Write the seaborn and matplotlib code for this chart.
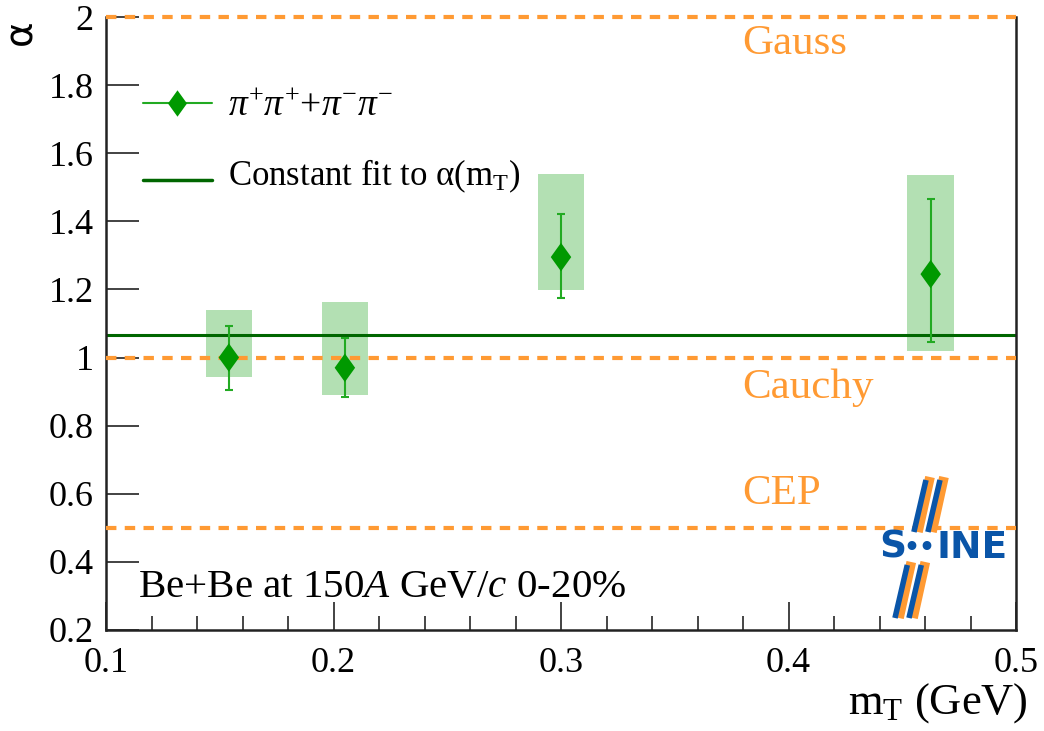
import numpy as np
import pandas as pd
import seaborn as sns
import matplotlib.pyplot as plt

# alpha vs mT, Be+Be 150A GeV/c 0-20%
mt = [0.154, 0.205, 0.300, 0.4625]
alpha = [1.000, 0.970, 1.295, 1.245]
stat_lo = [0.095, 0.085, 0.120, 0.198]
stat_hi = [0.094, 0.088, 0.128, 0.220]
sys_lo = [1.000 - 0.943, 0.970 - 0.891, 1.295 - 1.199, 1.245 - 1.018]
sys_hi = [1.140 - 1.000, 1.163 - 0.970, 1.539 - 1.295, 1.536 - 1.245]
box_w = 0.0205
const_fit = 1.067
ref_vals = [2.0, 1.0, 0.5]
ref_names = ['Gauss', 'Cauchy', 'CEP']

sns.set_theme(style='ticks')
plt.rcParams['font.family'] = ['Liberation Serif', 'DejaVu Serif']
plt.rcParams['mathtext.fontset'] = 'custom'
plt.rcParams['mathtext.rm'] = 'Liberation Serif'
plt.rcParams['mathtext.it'] = 'Liberation Serif:italic'
plt.rcParams['text.color'] = 'black'

orange = '#ff9a33'
green_pt = '#009900'
diamond = [(0, 1), (0.72, 0), (0, -1), (-0.72, 0), (0, 1)]

W, H = 1044, 731
fig = plt.figure(figsize=(10.44, 7.31), dpi=100)
ax = fig.add_axes([106 / W, 1 - 630 / H, 910 / W, 613 / H])

def fx(px):
    return px / W

def fy(py):
    return 1 - py / H

df = pd.DataFrame({'mt': mt, 'alpha': alpha})

# systematic boxes
lo = np.array(alpha) - np.array(sys_lo)
ax.bar(mt, np.array(sys_lo) + np.array(sys_hi), bottom=lo, width=box_w,
       color='#b3e0b3', edgecolor='none', zorder=1)
# stat errors
ax.errorbar(mt, alpha, yerr=[stat_lo, stat_hi], fmt='none', ecolor='#22aa22',
            elinewidth=1.5, capsize=3, capthick=1.5, zorder=3)
# reference lines
for v in ref_vals:
    ax.axhline(v, color=orange, ls=(0, (2.5, 2)), lw=3, zorder=4, clip_on=False)
ax.axhline(const_fit, color='#006600', lw=2.2, zorder=2)
sns.scatterplot(data=df, x='mt', y='alpha', marker=diamond, s=420, color=green_pt,
                edgecolor='none', zorder=5, ax=ax)

ax.set_xlim(0.1, 0.5)
ax.set_ylim(0.2, 2.0)
ax.set_xticks(np.arange(0.1, 0.51, 0.1))
ax.set_xticks(np.arange(0.1, 0.5, 0.02), minor=True)
ax.set_yticks(np.arange(0.2, 2.01, 0.2))
ax.set_xticklabels([f'{t:g}' for t in np.arange(0.1, 0.51, 0.1).round(1)])
ax.set_yticklabels([f'{t:g}' for t in np.arange(0.2, 2.01, 0.2).round(1)])
ax.tick_params(axis='both', which='major', direction='in', length=20, width=1.2,
               labelsize=26, top=False, right=False, colors='#222222', labelcolor='black')
ax.tick_params(axis='y', which='major', length=24, pad=9)
ax.tick_params(axis='x', which='major', pad=12)
ax.tick_params(axis='x', which='minor', direction='in', length=10, width=1.2, top=False)
for s in ax.spines.values():
    s.set_linewidth(1.8)
    s.set_color('#222222')
ax.spines['top'].set_visible(False)
ax.set_xlabel('')
ax.set_ylabel('')

# labels for reference lines
for name, py in zip(ref_names, [44, 388, 494]):
    fig.text(fx(742), fy(py), name, color=orange, fontsize=31, va='center')

# legend (drawn by hand, ROOT style)
fig.lines.append(plt.Line2D([fx(143), fx(212)], [fy(103)] * 2, color='#22aa22',
                            lw=1.5, transform=fig.transFigure))
fig.lines.append(plt.Line2D([fx(177)], [fy(103)], marker=diamond, ms=19, color=green_pt,
                            mec='none', lw=0, transform=fig.transFigure))
fig.text(fx(228), fy(106), r'$\pi^{+}\pi^{+}$+$\pi^{-}\pi^{-}$', fontsize=27, va='center')
fig.lines.append(plt.Line2D([fx(143), fx(212)], [fy(180)] * 2, color='#006600',
                            lw=2.5, transform=fig.transFigure))
fig.text(fx(228), fy(176), r'Constant fit to α($\mathrm{m_{T}}$)', fontsize=25, va='center')

fig.text(fx(138), fy(588), r'Be+Be at 150$\mathit{A}$ GeV/$\mathit{c}$ 0-20%',
         fontsize=29.5, va='center')
fig.text(fx(1028), fy(703), r'$\mathrm{m_{T}}$ (GeV)', fontsize=32, va='center', ha='right')
fig.text(fx(20), fy(32), 'α', fontsize=28, rotation=90, va='center', ha='center',
         family='DejaVu Sans')

# NA61/SHINE logo
blue = '#0a55a8'
for dx in (0, 14):
    for y0, y1 in ((477, 532), (562, 618)):
        xa = 927 + dx - (y0 - 477) * 0.22
        xb = 927 + dx - (y1 - 477) * 0.22
        fig.lines.append(plt.Line2D([fx(xa + 3), fx(xb + 3)], [fy(y0), fy(y1)],
                                    color=orange, lw=7, transform=fig.transFigure,
                                    solid_capstyle='butt'))
        fig.lines.append(plt.Line2D([fx(xa - 1), fx(xb - 1)], [fy(y0 + 3), fy(y1)],
                                    color=blue, lw=4, transform=fig.transFigure,
                                    solid_capstyle='butt'))
fig.text(fx(879), fy(548), 'S', color=blue, fontsize=27, fontweight='bold',
         family='DejaVu Sans', va='center')
fig.text(fx(903), fy(548), '••', color=blue, fontsize=18, fontweight='bold',
         family='DejaVu Sans', va='center')
fig.text(fx(937), fy(548), 'INE', color=blue, fontsize=27, fontweight='bold',
         family='DejaVu Sans', va='center')

fig.savefig('out.png', dpi=100)
